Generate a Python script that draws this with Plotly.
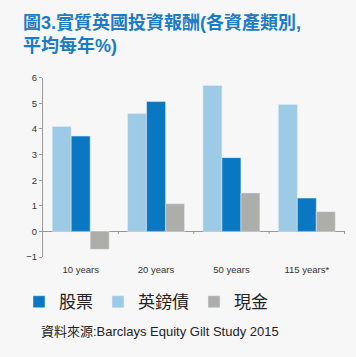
import plotly.graph_objects as go

categories = ["10 years", "20 years", "50 years", "115 years*"]
bonds = [4.1, 4.6, 5.7, 4.95]
stocks = [3.72, 5.07, 2.88, 1.3]
cash = [-0.7, 1.08, 1.5, 0.77]
y_ticks = [-1, 0, 1, 2, 3, 4, 5, 6]

W, H = 356, 357
# plot area in pixels (left, right, top, bottom)
PL, PR, PT, PB = 43, 345, 74, 259

LATIN_CJK = "Arial, 'Liberation Sans', 'Noto Sans CJK TC', sans-serif"

def fx(px):
    return px / W

def fy(py):
    return 1 - py / H

fig = go.Figure()
fig.add_trace(go.Bar(name="英鎊債", x=categories, y=bonds, marker_color="#9dcae5",
                     legendrank=2))
fig.add_trace(go.Bar(name="股票", x=categories, y=stocks, marker_color="#0a77c2",
                     legendrank=1))
fig.add_trace(go.Bar(name="現金", x=categories, y=cash, marker_color="#adadaa",
                     legendrank=3))

# small boundary ticks on the zero line
shapes = []
for i in range(len(categories)):
    shapes.append(dict(type="line", xref="x", yref="y", x0=i + 0.5, x1=i + 0.5,
                       y0=0, y1=-0.1, line=dict(color="#999999", width=1)))

fig.update_layout(
    width=W, height=H,
    margin=dict(l=0, r=0, t=0, b=0, pad=0),
    paper_bgcolor="#f7f7f7", plot_bgcolor="#f7f7f7",
    barmode="group", bargap=0.245, bargroupgap=0,
    font=dict(family=LATIN_CJK, color="#333333", size=10),
    xaxis=dict(domain=[fx(PL), fx(PR)], showline=False, showgrid=False,
               zeroline=False, ticks="",
               tickfont=dict(size=9.5, color="#333333"), ticklabelstandoff=5),
    yaxis=dict(domain=[fy(PB), fy(PT)], range=[-1, 6], tickvals=y_ticks,
               showgrid=False, showline=True, linecolor="#999999", linewidth=1,
               ticks="outside", ticklen=3, tickcolor="#999999",
               zeroline=True, zerolinecolor="#999999", zerolinewidth=1,
               tickfont=dict(size=9.5, color="#333333")),
    legend=dict(orientation="h", xref="paper", yref="paper",
                x=fx(19), xanchor="left", y=fy(287), yanchor="top",
                font=dict(size=17, color="#222222"), bgcolor="rgba(0,0,0,0)",
                traceorder="normal"),
    shapes=shapes,
    annotations=[
        dict(text="<b>圖3.實質英國投資報酬(各資產類別,<br>平均每年%)</b>",
             xref="paper", yref="paper", x=fx(21), xanchor="left",
             y=fy(4), yanchor="top", align="left", showarrow=False,
             font=dict(size=18, color="#1b7bc4", family=LATIN_CJK)),
        dict(text="資料來源:Barclays Equity Gilt Study 2015",
             xref="paper", yref="paper", x=fx(39), xanchor="left",
             y=fy(336), yanchor="middle", showarrow=False,
             font=dict(size=13, color="#222222")),
    ],
)

fig.write_html("out.html", config={"displayModeBar": False},
               post_script="document.body.style.margin='0';")
